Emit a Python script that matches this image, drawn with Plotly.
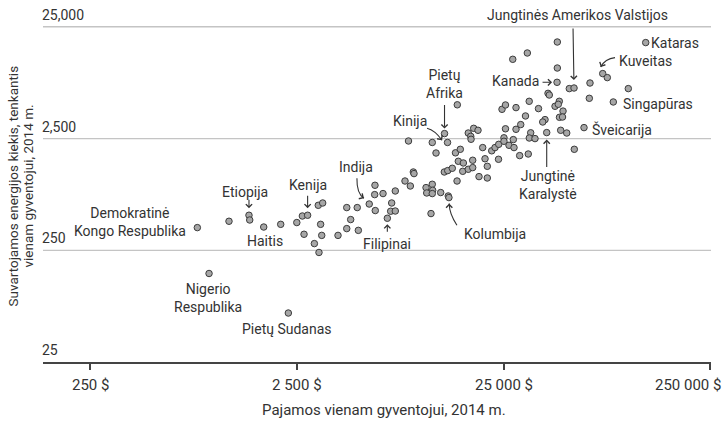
import math
import plotly.graph_objects as go

# ---------------- data ----------------
# income per capita, 2014 (USD, PPP)
income = [826, 941, 2275, 1175, 1468, 1480, 1730, 2090, 2500, 2660,
          2820, 3175, 3335, 3260, 2710, 3300, 3040, 3200, 3955, 4360,
          4900, 4555, 4360, 4960, 5970, 5950, 6530, 7485, 5600, 5990,
          7190, 7110, 7485, 6850, 8340, 8850, 9150, 9220, 10540, 10620,
          11300, 11350, 11300, 12410, 13500, 13600, 11140, 11780, 12920, 13420,
          14120, 14630, 15440, 14890, 15100, 15970, 17720, 15860, 16870, 17720,
          20330, 20850, 19010, 20850, 8670, 11300, 12950, 13390, 14930, 16870,
          17340, 17920, 18800, 19810, 21900, 22720, 23680, 25100, 25100, 26550,
          28070, 27850, 28700, 30250, 31900, 25530, 24560, 25530, 28700, 33250,
          33800, 33280, 35460, 29900, 32900, 23620, 27680, 32560, 45470, 45470,
          45330, 51960, 54760, 65420, 64930, 41000, 41580, 36870, 44330, 46480,
          45970, 48450, 46580, 48180, 39650, 38650, 40400, 47200, 50490, 61200,
          54930, 121650, 75380, 79330, 100230, 84800, 17400]
# energy use per capita, 2014 (kg of oil equivalent)
energy = [399, 155, 68.6, 455, 515, 467, 404, 427, 443, 507,
          515, 632, 663, 427, 348, 340, 287, 239, 340, 603,
          603, 471, 391, 377, 955, 788, 805, 849, 649, 567,
          663, 559, 562, 484, 1043, 941, 1256, 1215, 910, 815,
          975, 861, 805, 822, 766, 741, 533, 1858, 1256, 1293,
          1356, 1865, 2005, 1043, 1566, 1512, 1600, 1274, 1328, 1375,
          1650, 1412, 1142, 1110, 2380, 2308, 2772, 2308, 5017, 2805,
          2620, 3090, 2967, 2077, 1944, 2077, 2222, 2541, 2365, 2178,
          2077, 2449, 3028, 3338, 3985, 3060, 4573, 4999, 4736, 5394,
          2818, 2531, 2500, 1761, 1820, 1632, 12820, 14600, 18310, 10710,
          7980, 7008, 7095, 7865, 5737, 6357, 6140, 4640, 4866, 5395,
          5070, 4408, 3877, 3902, 3698, 3520, 2830, 2967, 2805, 3135,
          2005, 18090, 9550, 8790, 7008, 5318, 2465]

x_tick_vals = [250, 2500, 25000, 250000]
x_tick_text = ["250 $", "2 500 $", "25 000 $", "250 000 $"]
y_tick_vals = [25, 250, 2500, 25000]
y_tick_text = ["25", "250", "2,500", "25,000"]

x_title = "Pajamos vienam gyventojui, 2014 m."
y_title_lines = ["Suvartojamos energijos kiekis, tenkantis", "vienam gyventojui, 2014 m."]

# labelled countries: (point index, text)
label_index = [0, 1, 2, 4, 10, 6, 28, 33, 45, 67, 66, 100, 102, 121, 122, 125, 119, 116]
label_text = ["Demokratinė<br>Kongo Respublika", "Nigerio<br>Respublika", "Pietų Sudanas",
              "Etiopija", "Kenija", "Haitis", "Indija", "Filipinai", "Kolumbija",
              "Kinija", "Pietų<br>Afrika", "Kanada", "Jungtinės Amerikos Valstijos",
              "Kataras", "Kuveitas", "Singapūras", "Šveicarija", "Jungtinė<br>Karalystė"]

# ---------------- layout geometry ----------------
FW, FH = 724, 424
ML, MR, MT, MB = 43, 13, 0, 62
PW, PH = FW - ML - MR, FH - MT - MB
X0 = math.log10(250) - 47 / 206.8
X1 = X0 + PW / 206.8
Y0 = math.log10(25)
Y1 = Y0 + PH / 111.7

FONT = "Roboto"
TXT = "#333333"
GRID = "#c4c4c4"

# label placement: text offset (px) from the point, anchor
label_style = {
    0: dict(xshift=-9, yshift=6, xanchor="right"),
    1: dict(xshift=-1, yshift=-25, xanchor="center"),
    2: dict(xshift=-1, yshift=-16, xanchor="center"),
    4: dict(xshift=-4, yshift=23, xanchor="center"),
    10: dict(xshift=0, yshift=30, xanchor="center"),
    6: dict(xshift=1, yshift=-14, xanchor="center"),
    28: dict(xshift=-13, yshift=37, xanchor="center"),
    33: dict(xshift=0, yshift=-26, xanchor="center"),
    45: dict(xshift=46, yshift=-36, xanchor="center"),
    67: dict(xshift=-38, yshift=21, xanchor="center"),
    66: dict(xshift=0, yshift=50, xanchor="center"),
    100: dict(xshift=-42, yshift=1, xanchor="center"),
    102: dict(xshift=3, yshift=73, xanchor="center"),
    121: dict(xshift=3, yshift=0, xanchor="left"),
    122: dict(xshift=14, yshift=13, xanchor="left"),
    125: dict(xshift=8, yshift=-2, xanchor="left"),
    119: dict(xshift=6, yshift=-2, xanchor="left"),
    116: dict(xshift=1, yshift=-52, xanchor="center"),
}

# straight arrows: index -> (ax, ay, standoff)
straight_arrows = {
    4: (0, -17, 7),
    10: (0, -21, 7),
    33: (0, 15, 6),
    66: (0, -30, 5),
    100: (-16, 0, 5),
    102: (-1, -61, 8),
    116: (0, 36, 7),
}
# curved arrows: index -> (tail offset, control offset, tip offset) in px from point
curved_arrows = {
    28: ((-12.3, -25.7), (-12.6, -10.4), (-5.3, -5.7)),
    67: ((-20.5, -14.2), (-12.5, -12.2), (-5.5, -2.2)),
    45: ((8, 27.7), (0.3, 16), (0.3, 6)),
    122: ((12.3, -16), (2.3, -15), (-2, -6.6)),
}


def x_px(v):
    return ML + (math.log10(v) - X0) / (X1 - X0) * PW


def y_px(v):
    return MT + (Y1 - math.log10(v)) / (Y1 - Y0) * PH


def paper(px, py):
    return (px - ML) / PW, (MT + PH - py) / PH


fig = go.Figure()
fig.add_trace(go.Scatter(
    x=income, y=energy, mode="markers",
    marker=dict(size=6.5, color="#a6a6a6", line=dict(color="#3c3c3c", width=1)),
    hoverinfo="skip", showlegend=False, cliponaxis=False))

annotations = []
shapes = []
# horizontal grid lines at the y ticks (above the x axis line)
for v in y_tick_vals[1:]:
    shapes.append(dict(type="line", xref="paper", yref="y", x0=0, x1=1, y0=v, y1=v,
                       layer="below", line=dict(color=GRID, width=1.3)))

# x tick labels (the last one is kept inside the figure edge)
for k, (v, t) in enumerate(zip(x_tick_vals, x_tick_text)):
    last = k == len(x_tick_vals) - 1
    annotations.append(dict(
        x=math.log10(v), y=0, xref="x", yref="paper", text=t, showarrow=False,
        xanchor="right" if last else "center", yanchor="middle",
        xshift=(FW - 1 - x_px(v)) if last else 0,
        yshift=-23, font=dict(family=FONT, size=15, color=TXT)))

for i, t in zip(label_index, label_text):
    st = label_style[i]
    annotations.append(dict(
        x=math.log10(income[i]), y=math.log10(energy[i]), xref="x", yref="y",
        text=t, showarrow=False, xshift=st["xshift"], yshift=st["yshift"],
        xanchor=st["xanchor"], yanchor="middle", align="center",
        font=dict(family=FONT, size=14, color=TXT)))

for i, (ax, ay, so) in straight_arrows.items():
    annotations.append(dict(
        x=math.log10(income[i]), y=math.log10(energy[i]), xref="x", yref="y",
        text="", showarrow=True, ax=ax, ay=ay, standoff=so,
        arrowhead=4, arrowsize=1.1, arrowwidth=1.1, arrowcolor=TXT))

for i, (tail, ctrl, tip) in curved_arrows.items():
    px0, py0 = x_px(income[i]), y_px(energy[i])
    tx, ty = paper(px0 + tail[0], py0 + tail[1])
    cx, cy = paper(px0 + ctrl[0], py0 + ctrl[1])
    hx, hy = paper(px0 + tip[0], py0 + tip[1])
    shapes.append(dict(type="path", xref="paper", yref="paper",
                       path=f"M {tx},{ty} Q {cx},{cy} {hx},{hy}",
                       line=dict(color=TXT, width=1.1)))
    dx, dy = ctrl[0] - tip[0], ctrl[1] - tip[1]
    n = math.hypot(dx, dy)
    annotations.append(dict(
        x=hx, y=hy, xref="paper", yref="paper", text="", showarrow=True,
        ax=dx / n * 4, ay=dy / n * 4, standoff=0,
        arrowhead=4, arrowsize=1.1, arrowwidth=1.1, arrowcolor=TXT))

# axis titles
annotations.append(dict(
    x=(384 - ML) / PW, y=0, xref="paper", yref="paper", yshift=-(410 - (MT + PH)),
    text=x_title, showarrow=False, xanchor="center", yanchor="middle",
    font=dict(family=FONT, size=15, color=TXT)))
for line_x, line in zip([12.5, 27.5], y_title_lines):
    annotations.append(dict(
        x=0, y=(MT + PH - 186) / PH, xref="paper", yref="paper", xshift=line_x - ML,
        text=line, showarrow=False, textangle=-90, xanchor="center", yanchor="middle",
        font=dict(family=FONT, size=13.5, color=TXT)))

fig.update_layout(
    width=FW, height=FH,
    margin=dict(l=ML, r=MR, t=MT, b=MB, autoexpand=False),
    paper_bgcolor="white", plot_bgcolor="white",
    font=dict(family=FONT, size=14, color=TXT),
    annotations=annotations, shapes=shapes,
    xaxis=dict(type="log", range=[X0, X1], tickvals=x_tick_vals, ticktext=x_tick_text,
               showticklabels=False,
               showgrid=False, zeroline=False, showline=True, linecolor="#444444", linewidth=1.5,
               ticks="outside", ticklen=6, tickwidth=1.5, tickcolor="#444444"),
    yaxis=dict(type="log", range=[Y0, Y1], tickvals=y_tick_vals, ticktext=y_tick_text,
               showgrid=True, gridcolor=GRID, gridwidth=1.3, zeroline=False, showline=False,
               ticks="", ticklabelposition="inside top", ticklabelstandoff=-4, ticklabelshift=-2,
               tickfont=dict(family=FONT, size=14, color=TXT)),
)

fig.write_html("out.html", config={"displayModeBar": False},
               post_script="document.body.style.margin='0px';")
